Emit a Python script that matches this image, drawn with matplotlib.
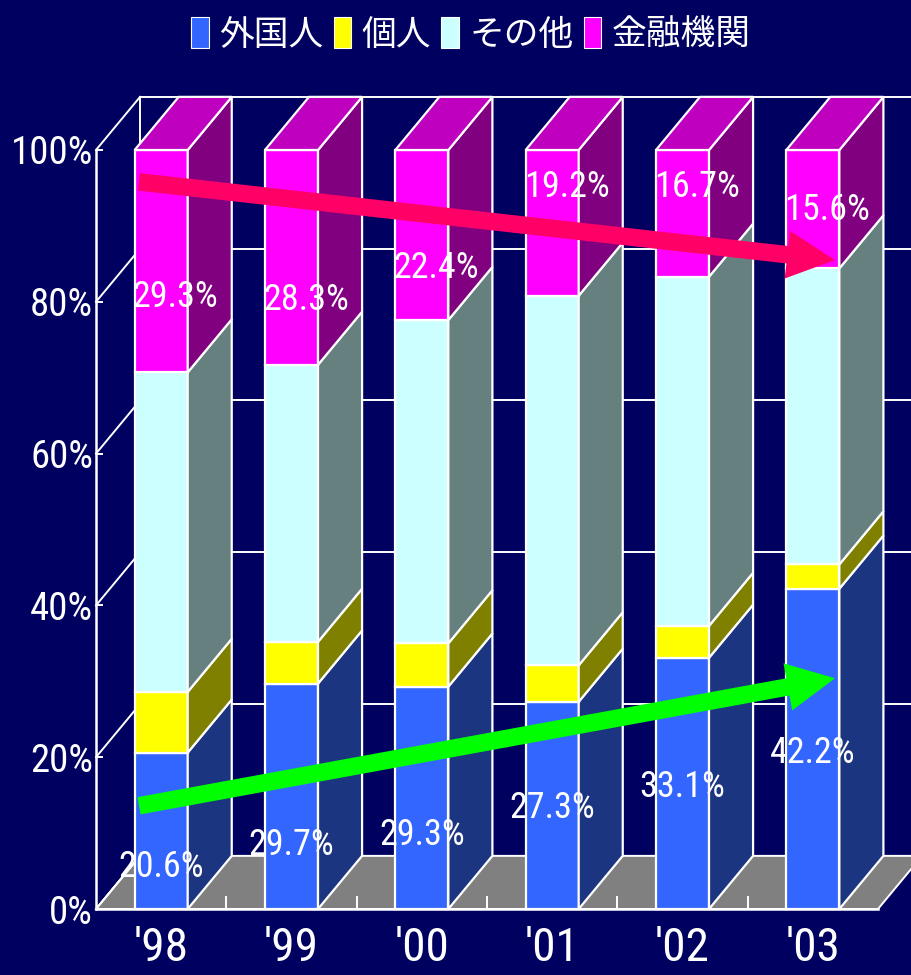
"""Stacked 3D-style bar chart of shareholder composition, '98-'03."""
import matplotlib
matplotlib.use("Agg")
import matplotlib.pyplot as plt  # type: ignore
from matplotlib import font_manager
from matplotlib.font_manager import FontProperties
from matplotlib.patches import Patch, Polygon, Rectangle

years = ["'98", "'99", "'00", "'01", "'02", "'03"]
series_names = ["外国人", "個人", "その他", "金融機関"]
foreign = [20.6, 29.7, 29.3, 27.3, 33.1, 42.2]
individual = [8.0, 5.5, 5.7, 4.8, 4.2, 3.2]
other = [42.1, 36.5, 42.6, 48.7, 46.0, 39.0]
financial = [29.3, 28.3, 22.4, 19.2, 16.7, 15.6]
y_ticks = [0, 20, 40, 60, 80, 100]

# where the value labels sit inside the bars (percent units)
foreign_label_y = [5.5, 8.4, 9.8, 13.3, 16.1, 20.6]
financial_label_y = [80.6, 80.3, 84.5, 95.1, 95.1, 92.1]

BG = "#000060"
FRONT = ["#3366ff", "#ffff00", "#ccffff", "#ff00ff"]
SIDE = ["#1c3580", "#808000", "#668080", "#800080"]
TOP = "#bf00bf"
FLOOR = "#808080"

BAR_W = 0.407
DX, DY = 0.338, 7.0


def pick_font(names):
    """Return the first installed family from names."""
    for name in names:
        try:
            font_manager.findfont(FontProperties(family=name), fallback_to_default=False)
            return name
        except ValueError:
            continue
    return "DejaVu Sans"


NUM_FONT = pick_font(["Liberation Sans Narrow", "Roboto Condensed", "DejaVu Sans Condensed",
                      "Liberation Sans"])
CJK_FONT = ["Noto Sans CJK JP", "DejaVu Sans"]

fig = plt.figure(figsize=(9.11, 9.75), dpi=100, facecolor=BG)
ax = fig.add_axes([96 / 911, 66 / 975, 782 / 911, 759 / 975])
ax.set_facecolor("none")
ax.set_xlim(-0.5, len(years) - 0.5)
ax.set_ylim(0, 100)

x_left, x_right = -0.5, len(years) - 0.5
line_kw = dict(color="white", lw=1.4, clip_on=False, zorder=1)

# back wall grid and left wall diagonals
for t in y_ticks:
    ax.plot([x_left + DX, x_right + DX + 0.3], [t + DY, t + DY], **line_kw)
    ax.plot([x_left, x_left + DX], [t, t + DY], **line_kw)
ax.plot([x_left + DX, x_left + DX], [DY, 100 + DY], **line_kw)

# floor
ax.add_patch(Polygon([(x_left, 0), (x_right, 0), (x_right + DX, DY), (x_left + DX, DY)],
                     closed=True, fc=FLOOR, ec="white", lw=1.4, clip_on=False, zorder=1.5))
ax.plot([x_left, x_left + DX], [0, DY], color="white", lw=1.4, clip_on=False, zorder=1.6)
for b in range(1, len(years)):
    ax.plot([b - 0.5, b - 0.5], [0, 1.6], color="white", lw=1.4, zorder=1.6)


def draw_segment(x, bottom, height, face, side, top=None):
    x0, x1 = x - BAR_W / 2, x + BAR_W / 2
    y0, y1 = bottom, bottom + height
    kw = dict(ec="white", lw=1.6, clip_on=False, zorder=3, joinstyle="miter")
    ax.add_patch(Rectangle((x0, y0), BAR_W, height, fc=face, **kw))
    ax.add_patch(Polygon([(x1, y0), (x1 + DX, y0 + DY), (x1 + DX, y1 + DY), (x1, y1)],
                         closed=True, fc=side, **kw))
    if top is not None:
        ax.add_patch(Polygon([(x0, y1), (x1, y1), (x1 + DX, y1 + DY), (x0 + DX, y1 + DY)],
                             closed=True, fc=top, **kw))


stack = [foreign, individual, other, financial]
for i in range(len(years)):
    base = 0.0
    for k, values in enumerate(stack):
        draw_segment(i, base, values[i], FRONT[k], SIDE[k],
                     TOP if k == len(stack) - 1 else None)
        base += values[i]

# trend arrows
arrow_kw = dict(arrowstyle="simple,head_length=1.15,head_width=1.15,tail_width=0.42",
                mutation_scale=30, shrinkA=0, shrinkB=0, lw=0)
ax.annotate("", xy=(5.17, 85.5), xytext=(-0.17, 95.8),
            arrowprops=dict(fc="#ff0066", **arrow_kw), annotation_clip=False, zorder=6)
ax.annotate("", xy=(5.17, 30.4), xytext=(-0.17, 13.6),
            arrowprops=dict(fc="#00ff00", **arrow_kw), annotation_clip=False, zorder=6)

# value labels
for i in range(len(years)):
    ax.text(i, foreign_label_y[i], f"{foreign[i]:.1f}%", color="white", fontsize=26,
            family=NUM_FONT, ha="center", va="center", zorder=7)
    ax.text(i + 0.11, financial_label_y[i], f"{financial[i]:.1f}%", color="white",
            fontsize=26, family=NUM_FONT, ha="center", va="center", zorder=7)

# axes styling
for side in ["top", "right"]:
    ax.spines[side].set_visible(False)
for side in ["left", "bottom"]:
    ax.spines[side].set_color("white")
    ax.spines[side].set_linewidth(1.8)
    ax.spines[side].set_zorder(2)
ax.set_yticks(y_ticks)
ax.set_yticklabels([f"{t}%" for t in y_ticks], family=NUM_FONT, fontsize=28, color="white")
ax.tick_params(axis="y", direction="in", length=5, width=1.4, color="white", pad=2)
ax.set_xticks(range(len(years)))
ax.set_xticklabels(years, family=NUM_FONT, fontsize=34, color="white")
ax.tick_params(axis="x", length=0, pad=12)

handles = [Patch(fc=c, ec="white", lw=0.8) for c in FRONT]
fig.legend(handles, series_names, loc="center", bbox_to_anchor=(0.517, 0.964), ncol=4,
           frameon=False, prop=FontProperties(family=CJK_FONT, size=25),
           labelcolor="white", handlelength=0.5, handleheight=1.0, handletextpad=0.3,
           columnspacing=0.3)

fig.savefig("out.png", dpi=100, facecolor=BG)
